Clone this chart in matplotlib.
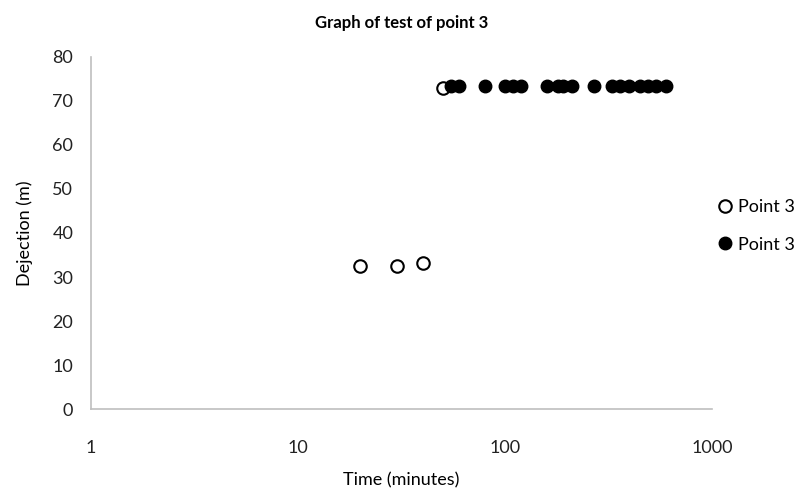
import matplotlib.pyplot as plt

# open markers (Point 3, first series)
t_open = [20, 30, 40, 50]
d_open = [32.5, 32.5, 33.2, 73.0]

# filled markers (Point 3, second series)
t_fill = [55, 60, 80, 100, 110, 120, 160, 180, 190, 210, 270,
          330, 360, 400, 450, 490, 540, 600]
d_fill = [73.3] * len(t_fill)

plt.rcParams['font.family'] = ['Lato', 'DejaVu Sans']

fig = plt.figure(figsize=(8.07, 4.90), dpi=100)
ax = fig.add_axes([0.113, 0.165, 0.769, 0.719])

ax.plot(t_open, d_open, 'o', ms=9, mfc='white', mec='black', mew=1.5,
        label='Point 3', zorder=3)
ax.plot(t_fill, d_fill, 'o', ms=9, mfc='black', mec='black',
        label='Point 3', zorder=3)

ax.set_xscale('log')
ax.set_xlim(1, 1000)
ax.set_ylim(0, 80)
ax.set_xticks([1, 10, 100, 1000])
ax.set_xticklabels(['1', '10', '100', '1000'])
ax.minorticks_off()
ax.set_yticks(range(0, 81, 10))

for s in ['top', 'right']:
    ax.spines[s].set_visible(False)
for s in ['left', 'bottom']:
    ax.spines[s].set_color('#bfbfbf')
    ax.spines[s].set_linewidth(1.2)
ax.tick_params(axis='both', length=0, labelsize=13, colors='#222222')
ax.tick_params(axis='x', pad=22)
ax.tick_params(axis='y', pad=13)

ax.set_xlabel('Time (minutes)', fontsize=13, labelpad=12)
ax.set_ylabel('Dejection (m)', fontsize=13, labelpad=14)
ax.set_title('Graph of test of point 3', fontsize=12, fontweight='bold', pad=21)

ax.legend(loc='center left', bbox_to_anchor=(1.01, 0.52), frameon=False,
          fontsize=13, handlelength=0.8, handletextpad=0.3, borderaxespad=0,
          borderpad=0, labelspacing=1.2, markerscale=1.0)

fig.savefig('out.png', dpi=100)
